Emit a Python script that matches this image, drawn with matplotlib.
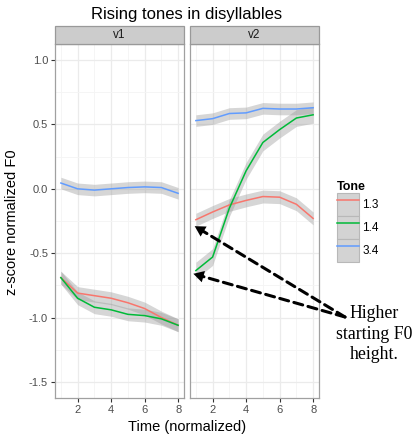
import matplotlib
matplotlib.use("Agg")
import matplotlib.pyplot as plt
from matplotlib.patches import Patch, Rectangle
from matplotlib.lines import Line2D
import numpy as np

plt.rcParams['font.family'] = ['Liberation Sans', 'DejaVu Sans']
plt.rcParams['axes.unicode_minus'] = False

# data
time = [1, 2, 3, 4, 5, 6, 7, 8]
tones = ["1.3", "1.4", "3.4"]
tone_colors = ["#F8766D", "#00BA38", "#619CFF"]
panels = ["v1", "v2"]

v1_13 = [-0.69, -0.81, -0.83, -0.85, -0.885, -0.93, -1.00, -1.06]
v1_14 = [-0.69, -0.85, -0.92, -0.94, -0.975, -0.985, -1.01, -1.06]
v1_34 = [0.045, 0.0, -0.01, 0.0, 0.01, 0.015, 0.01, -0.035]
v2_13 = [-0.24, -0.18, -0.125, -0.09, -0.06, -0.065, -0.12, -0.23]
v2_14 = [-0.635, -0.53, -0.15, 0.14, 0.36, 0.46, 0.55, 0.575]
v2_34 = [0.53, 0.545, 0.585, 0.59, 0.625, 0.62, 0.62, 0.63]

# half widths of the grey confidence bands
v1_se = [0.05, 0.05, 0.045]
v2_se = [0.05, 0.065, 0.045]

series = {
    "v1": [v1_13, v1_14, v1_34],
    "v2": [v2_13, v2_14, v2_34],
}
bands = {"v1": v1_se, "v2": v2_se}

W, H = 415, 436
fig = plt.figure(figsize=(W / 100, H / 100), dpi=100)

def fx(px):
    return px / W

def fy(py):
    return 1 - py / H

panel_left = [55, 190]
panel_w = 129
panel_top, panel_bot = 44, 398
strip_top = 26

axes = []
for i, name in enumerate(panels):
    ax = fig.add_axes([fx(panel_left[i]), fy(panel_bot), panel_w / W, (panel_bot - panel_top) / H])
    ax.set_facecolor("white")
    for t, col, yv, se in zip(tones, tone_colors, series[name], bands[name]):
        y = np.array(yv)
        ax.fill_between(time, y - se, y + se, color="#999999", alpha=0.4, lw=0, zorder=2)
        ax.plot(time, y, color=col, lw=1.1, zorder=3)
    ax.set_xlim(0.65, 8.35)
    ax.set_ylim(-1.625, 1.125)
    ax.set_xticks([2, 4, 6, 8])
    ax.set_xticks([1, 3, 5, 7], minor=True)
    ax.set_yticks([-1.5, -1.0, -0.5, 0.0, 0.5, 1.0])
    ax.set_yticks([-1.25, -0.75, -0.25, 0.25, 0.75], minor=True)
    ax.grid(True, which="major", color="#EBEBEB", lw=0.9, zorder=0)
    ax.grid(True, which="minor", color="#F4F4F4", lw=0.6, zorder=0)
    ax.set_axisbelow(True)
    for s in ax.spines.values():
        s.set_color("#A0A0A0")
        s.set_linewidth(0.9)
    ax.tick_params(which="minor", length=0)
    ax.tick_params(which="major", length=3, width=0.8, color="#333333",
                   labelsize=8, labelcolor="#4D4D4D", pad=2)
    if i == 1:
        ax.tick_params(axis="y", which="major", length=0, labelleft=False)
    else:
        ax.set_yticklabels(["-1.5", "-1.0", "-0.5", "0.0", "0.5", "1.0"])
    # facet strip
    fig.patches.append(Rectangle((fx(panel_left[i]), fy(panel_top)), panel_w / W,
                                 (panel_top - strip_top) / H, transform=fig.transFigure,
                                 facecolor="#CCCCCC", edgecolor="#999999", lw=0.9))
    fig.text(fx(panel_left[i] + panel_w / 2), fy((panel_top + strip_top) / 2), name,
             ha="center", va="center", fontsize=8.5, color="#1A1A1A")
    axes.append(ax)

fig.text(fx(187), fy(15), "Rising tones in disyllables", ha="center", va="center", fontsize=12)
fig.text(fx(187), fy(427), "Time (normalized)", ha="center", va="center", fontsize=10.5)
fig.text(fx(12), fy(222), "z-score normalized F0", ha="center", va="center",
         rotation=90, fontsize=10.5)

# legend
handles = [(Patch(facecolor="#D3D3D3", edgecolor="#B8B8B8", lw=0.8),
            Line2D([], [], color=c, lw=1.1)) for c in tone_colors]
leg = fig.legend(handles, tones, loc="upper left", bbox_to_anchor=(fx(337), fy(181)),
                 frameon=False, fontsize=8.5, title="Tone", handlelength=1.9,
                 handleheight=2.6, labelspacing=0.0, handletextpad=0.25,
                 borderpad=0, borderaxespad=0)
leg.get_title().set_fontweight("bold")
leg.get_title().set_fontsize(9)
leg._legend_box.align = "left"

# annotation with dashed arrows
tail = (fx(345), fy(317))
ax2 = axes[1]
for tip in [(0.93, -0.29), (0.85, -0.66)]:
    ax2.annotate("", xy=tip, xycoords="data", xytext=tail, textcoords="figure fraction",
                 arrowprops=dict(arrowstyle="-", lw=2.2, ls=(0, (3, 1.8)), color="black",
                                 shrinkA=0, shrinkB=6),
                 annotation_clip=False)
    ax2.annotate("", xy=tip, xycoords="data", xytext=tail, textcoords="figure fraction",
                 arrowprops=dict(arrowstyle="-|>,head_length=0.75,head_width=0.42", lw=0,
                                 color="black", shrinkA=0, shrinkB=0),
                 annotation_clip=False)

fig.text(fx(374), fy(305), "Higher\nstarting F0\nheight.", ha="center", va="top",
         fontsize=12.8, family=["Liberation Serif", "DejaVu Serif"], linespacing=1.28)

fig.savefig("out.png", dpi=100)
